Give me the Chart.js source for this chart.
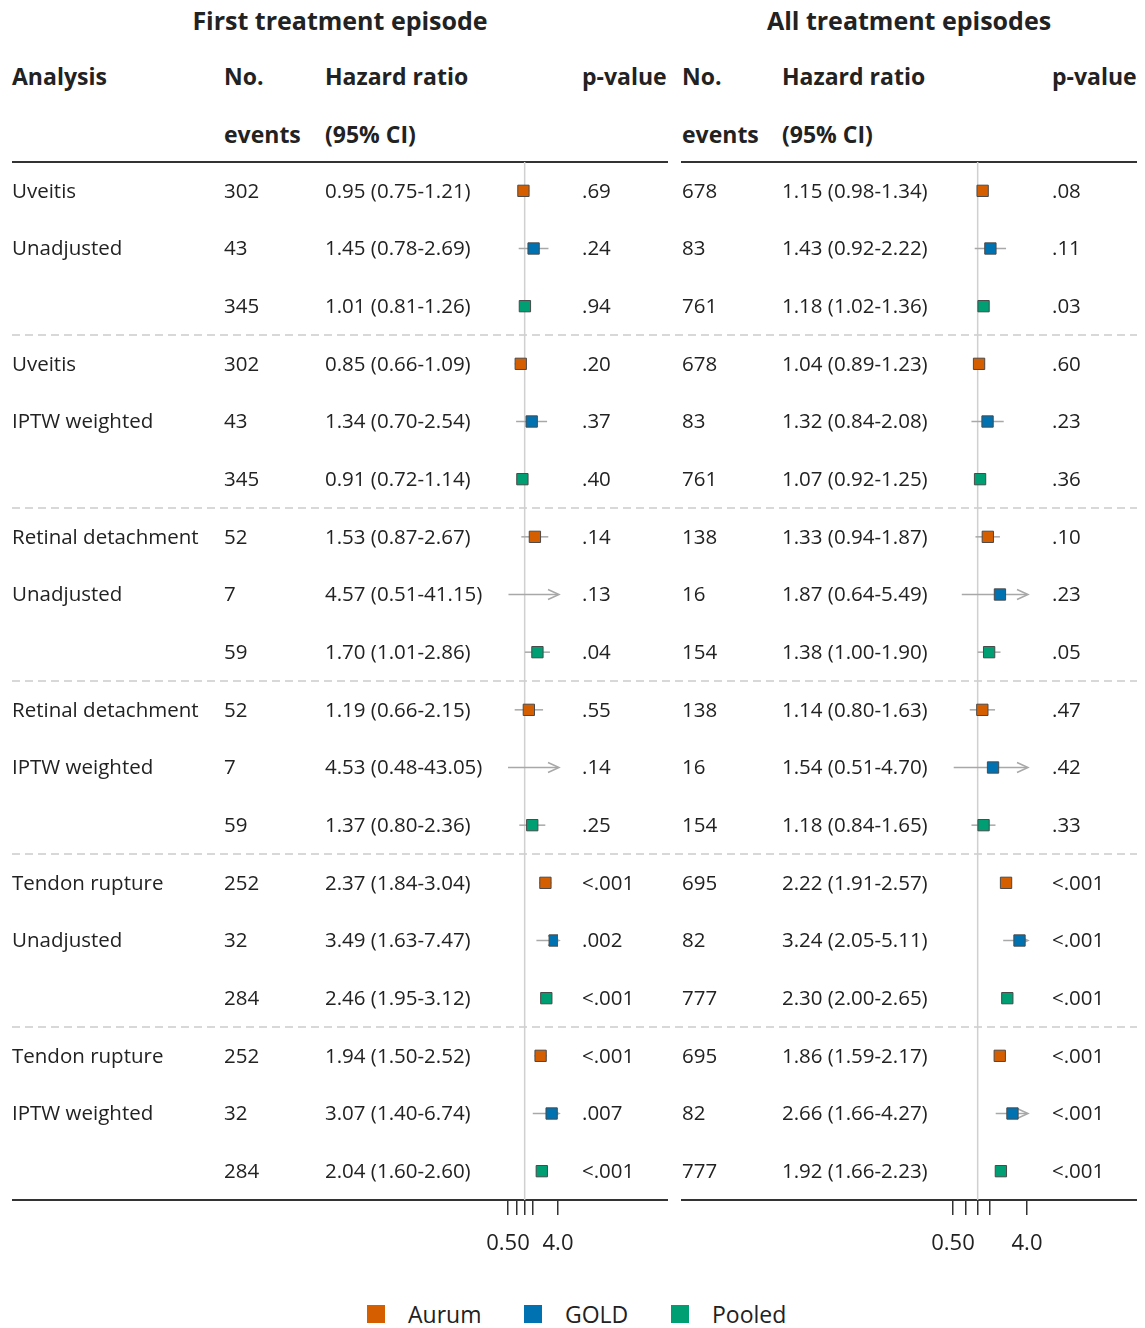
<!DOCTYPE html>
<html>
<head>
<meta charset="utf-8">
<title>Hazard ratios by treatment episode</title>
<script src="https://cdn.jsdelivr.net/npm/chart.js@4.4.1/dist/chart.umd.min.js"></script>
<style>
body { margin: 0; background: #fff; font-family: 'Open Sans', sans-serif; color: #222; }
#wrap { position: relative; width: 1145px; height: 1328px; }
canvas { position: absolute; left: 0; top: 0; }
.t { position: absolute; white-space: nowrap; height: 30px; line-height: 30px; }
.title { font-weight: bold; font-size: 25px; }
.hd { font-weight: bold; font-size: 23px; }
.leg { font-size: 23px; }
.sw { position: absolute; width: 18px; height: 18px; }
</style>
</head>
<body>
<div id="wrap">
  <div class="t title" style="left:0;width:680px;text-align:center;top:5px">First treatment episode</div>
  <div class="t title" style="left:681px;width:456px;text-align:center;top:5px">All treatment episodes</div>

  <div class="t hd" style="left:12px;top:61px">Analysis</div>
  <div class="t hd" style="left:224px;top:61px">No.</div>
  <div class="t hd" style="left:325px;top:61px">Hazard ratio</div>
  <div class="t hd" style="left:582px;top:61px">p-value</div>
  <div class="t hd" style="left:224px;top:119px">events</div>
  <div class="t hd" style="left:325px;top:119px">(95% CI)</div>

  <div class="t hd" style="left:682px;top:61px">No.</div>
  <div class="t hd" style="left:782px;top:61px">Hazard ratio</div>
  <div class="t hd" style="left:1052px;top:61px">p-value</div>
  <div class="t hd" style="left:682px;top:119px">events</div>
  <div class="t hd" style="left:782px;top:119px">(95% CI)</div>

  <canvas id="firstChart" width="1145" height="1270"></canvas>
  <canvas id="allChart" width="1145" height="1270"></canvas>

  <div id="legend"></div>
</div>

<script>
// row layout: outcome x method x source (3 rows per block, 6 blocks)
const outcomes = ['Uveitis', 'Retinal detachment', 'Tendon rupture'];
const methods = ['Unadjusted', 'IPTW weighted'];
const sources = ['Aurum', 'GOLD', 'Pooled'];
const sourceColors = ['#D55E00', '#0072B2', '#009E73'];

const tickValues = [0.5, 0.71, 1, 1.41, 4];
const tickLabels = ['0.50', '', '', '', '4.0'];

// first treatment episode
const firstEvents = [302, 43, 345, 302, 43, 345, 52, 7, 59, 52, 7, 59, 252, 32, 284, 252, 32, 284];
const firstHR = [0.95, 1.45, 1.01, 0.85, 1.34, 0.91, 1.53, 4.57, 1.70, 1.19, 4.53, 1.37, 2.37, 3.49, 2.46, 1.94, 3.07, 2.04];
const firstLower = [0.75, 0.78, 0.81, 0.66, 0.70, 0.72, 0.87, 0.51, 1.01, 0.66, 0.48, 0.80, 1.84, 1.63, 1.95, 1.50, 1.40, 1.60];
const firstUpper = [1.21, 2.69, 1.26, 1.09, 2.54, 1.14, 2.67, 41.15, 2.86, 2.15, 43.05, 2.36, 3.04, 7.47, 3.12, 2.52, 6.74, 2.60];
const firstP = ['.69', '.24', '.94', '.20', '.37', '.40', '.14', '.13', '.04', '.55', '.14', '.25', '<.001', '.002', '<.001', '<.001', '.007', '<.001'];

// all treatment episodes
const allEvents = [678, 83, 761, 678, 83, 761, 138, 16, 154, 138, 16, 154, 695, 82, 777, 695, 82, 777];
const allHR = [1.15, 1.43, 1.18, 1.04, 1.32, 1.07, 1.33, 1.87, 1.38, 1.14, 1.54, 1.18, 2.22, 3.24, 2.30, 1.86, 2.66, 1.92];
const allLower = [0.98, 0.92, 1.02, 0.89, 0.84, 0.92, 0.94, 0.64, 1.00, 0.80, 0.51, 0.84, 1.91, 2.05, 2.00, 1.59, 1.66, 1.66];
const allUpper = [1.34, 2.22, 1.36, 1.23, 2.08, 1.25, 1.87, 5.49, 1.90, 1.63, 4.70, 1.65, 2.57, 5.11, 2.65, 2.17, 4.27, 2.23];
const allP = ['.08', '.11', '.03', '.60', '.23', '.36', '.10', '.23', '.05', '.47', '.42', '.33', '<.001', '<.001', '<.001', '<.001', '<.001', '<.001'];

const X_MIN = 0.5, X_MAX = 4;
const W = 1145;

function line(ctx, x0, y0, x1, y1) {
    ctx.beginPath();
    ctx.moveTo(x0, y0);
    ctx.lineTo(x1, y1);
    ctx.stroke();
}

function rowLabel(i) {
    if (i % 3 === 0) return outcomes[Math.floor(i / 6)];
    if (i % 3 === 1) return methods[Math.floor(i / 3) % 2];
    return '';
}

function tablePlugin(p) {
    return {
        id: 'table_' + p.id,
        beforeDatasetsDraw(chart) {
            const {ctx, chartArea, scales: {x, y}} = chart;
            ctx.save();
            // dashed separators between blocks
            ctx.strokeStyle = '#cccccc';
            ctx.lineWidth = 1.5;
            ctx.setLineDash([8, 5]);
            for (let b = 1; b < 6; b++) {
                const yy = y.getPixelForValue(b * 3 - 0.5);
                line(ctx, p.dashFrom, yy, p.dashTo, yy);
            }
            ctx.setLineDash([]);
            // header and bottom rules
            ctx.strokeStyle = '#333';
            ctx.lineWidth = 2;
            line(ctx, p.ruleFrom, chartArea.top, p.ruleTo, chartArea.top);
            line(ctx, p.ruleFrom, chartArea.bottom, p.ruleTo, chartArea.bottom);
            // null line at HR = 1
            const x1 = x.getPixelForValue(1);
            ctx.strokeStyle = '#d0d0d0';
            ctx.lineWidth = 1.5;
            line(ctx, x1, chartArea.top, x1, chartArea.bottom);
            // confidence intervals, clipped at the axis limits
            ctx.strokeStyle = '#a8a8a8';
            p.hr.forEach((v, i) => {
                const lo = Math.max(p.lower[i], X_MIN);
                const hi = Math.min(p.upper[i], X_MAX);
                const xa = x.getPixelForValue(lo);
                const xb = x.getPixelForValue(hi);
                const yy = y.getPixelForValue(i);
                line(ctx, xa, yy, xb, yy);
                if (p.upper[i] > X_MAX) {
                    ctx.beginPath();
                    ctx.moveTo(xb - 10, yy - 5);
                    ctx.lineTo(xb + 1, yy);
                    ctx.lineTo(xb - 10, yy + 5);
                    ctx.stroke();
                }
            });
            ctx.restore();
        },
        afterDraw(chart) {
            const {ctx, scales: {y}} = chart;
            ctx.save();
            ctx.font = '20.5px "Open Sans"';
            ctx.fillStyle = '#222';
            ctx.textBaseline = 'middle';
            ctx.textAlign = 'left';
            p.hr.forEach((v, i) => {
                const yy = y.getPixelForValue(i) + 1;
                if (p.showAnalysis) ctx.fillText(rowLabel(i), 12, yy);
                ctx.fillText(String(p.events[i]), p.colEvents, yy);
                ctx.fillText(v.toFixed(2) + ' (' + p.lower[i].toFixed(2) + '-' + p.upper[i].toFixed(2) + ')', p.colHR, yy);
                ctx.fillText(p.p[i], p.colP, yy);
            });
            ctx.restore();
        }
    };
}

function makePanel(p) {
    const datasets = sources.map((s, k) => ({
        label: s,
        data: p.hr.map((v, i) => ({x: v, y: i})).filter((d, i) => i % 3 === k && d.x <= X_MAX),
        pointStyle: 'rect',
        pointRadius: 8,
        pointHoverRadius: 8,
        backgroundColor: sourceColors[k],
        borderColor: '#4a4a4a',
        borderWidth: 1
    }));
    return new Chart(document.getElementById(p.id), {
        type: 'scatter',
        data: {datasets: datasets},
        options: {
            responsive: false,
            animation: false,
            events: [],
            layout: {padding: {left: p.plotLeft, right: W - p.plotRight, top: 162, bottom: 10}},
            plugins: {legend: {display: false}, tooltip: {enabled: false}},
            scales: {
                x: {
                    type: 'logarithmic',
                    min: X_MIN,
                    max: X_MAX,
                    afterBuildTicks: s => { s.ticks = tickValues.map(v => ({value: v})); },
                    afterFit: s => { s.height = 60; },
                    ticks: {
                        autoSkip: false,
                        maxRotation: 0,
                        padding: 16,
                        color: '#222',
                        font: {family: 'Open Sans', size: 22},
                        callback: (v, i) => tickLabels[i]
                    },
                    grid: {drawOnChartArea: false, drawTicks: true, tickLength: 15, color: '#333', lineWidth: 1.5},
                    border: {display: false}
                },
                y: {type: 'linear', reverse: true, min: -0.5, max: 17.5, display: false}
            }
        },
        plugins: [tablePlugin(p)]
    });
}

makePanel({
    id: 'firstChart', plotLeft: 508, plotRight: 558,
    events: firstEvents, hr: firstHR, lower: firstLower, upper: firstUpper, p: firstP,
    showAnalysis: true, colEvents: 224, colHR: 325, colP: 582,
    ruleFrom: 12, ruleTo: 668, dashFrom: 12, dashTo: 675
});

makePanel({
    id: 'allChart', plotLeft: 953, plotRight: 1027,
    events: allEvents, hr: allHR, lower: allLower, upper: allUpper, p: allP,
    showAnalysis: false, colEvents: 682, colHR: 782, colP: 1052,
    ruleFrom: 681, ruleTo: 1137, dashFrom: 675, dashTo: 1137
});

// legend row under both panels
const legendX = [367, 524, 671];
const legend = document.getElementById('legend');
sources.forEach((s, k) => {
    const sw = document.createElement('div');
    sw.className = 'sw';
    sw.style.left = legendX[k] + 'px';
    sw.style.top = '1305px';
    sw.style.background = sourceColors[k];
    legend.appendChild(sw);
    const lab = document.createElement('div');
    lab.className = 't leg';
    lab.style.left = (legendX[k] + 41) + 'px';
    lab.style.top = '1299px';
    lab.textContent = s;
    legend.appendChild(lab);
});
</script>
</body>
</html>
